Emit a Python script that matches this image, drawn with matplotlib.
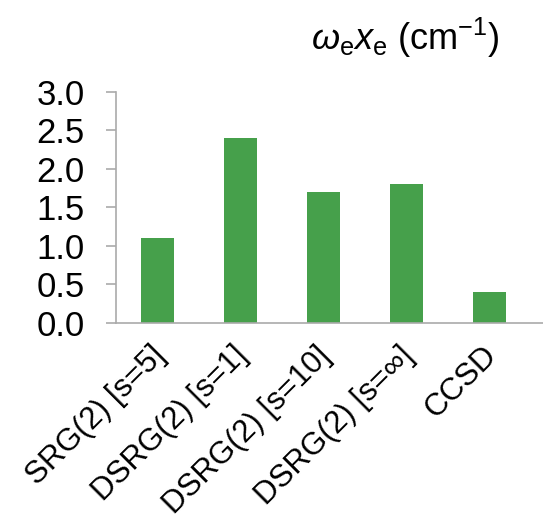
import matplotlib
matplotlib.use('Agg')
import matplotlib.pyplot as plt
import matplotlib.transforms as mtransforms
import numpy as np

# datos
metodos = ['SRG(2) [s=5]', 'DSRG(2) [s=1]', 'DSRG(2) [s=10]',
           'DSRG(2) [s=∞]', 'CCSD']
valores = [1.1, 2.4, 1.7, 1.8, 0.4]
ticks_y = [0.0, 0.5, 1.0, 1.5, 2.0, 2.5, 3.0]

plt.rcParams['font.family'] = ['Liberation Sans', 'DejaVu Sans']
plt.rcParams['mathtext.fontset'] = 'custom'
plt.rcParams['mathtext.rm'] = 'Liberation Sans'
plt.rcParams['mathtext.it'] = 'Liberation Sans:italic'

fig = plt.figure(figsize=(5.43, 5.24), dpi=100)
ax = fig.add_axes([0.2145, 0.3842, 0.7855, 0.441])

x = np.arange(len(metodos))
ax.bar(x, valores, width=0.40, color='#46a04b')

ax.set_xlim(-0.5, 4.65)
ax.set_ylim(0, 3.0)
ax.set_yticks(ticks_y)
ax.set_yticklabels([f'{v:.1f}' for v in ticks_y], fontsize=25)
ax.set_xticks(x)
ax.set_xticklabels(metodos, rotation=45, ha='right', rotation_mode='anchor',
                   fontsize=22.5)

for s in ['top', 'right']:
    ax.spines[s].set_visible(False)
for s in ['left', 'bottom']:
    ax.spines[s].set_color('#aaaaaa')
    ax.spines[s].set_linewidth(1.2)

ax.tick_params(axis='y', length=7.2, width=1.2, color='#aaaaaa', pad=15.5)
ax.tick_params(axis='x', length=0, pad=13)

# correr las etiquetas un poco a la izquierda (después de tick_params)
desplaz = mtransforms.ScaledTranslation(-0.08, 0, fig.dpi_scale_trans)
for lab in ax.get_xticklabels():
    lab.set_transform(lab.get_transform() + desplaz)

fig.text(0.747, 0.927, r'$\omega_\mathrm{e}x_\mathrm{e}$ (cm$^{-1}$)',
         ha='center', va='center', fontsize=26)

fig.savefig('out.png', dpi=100)
